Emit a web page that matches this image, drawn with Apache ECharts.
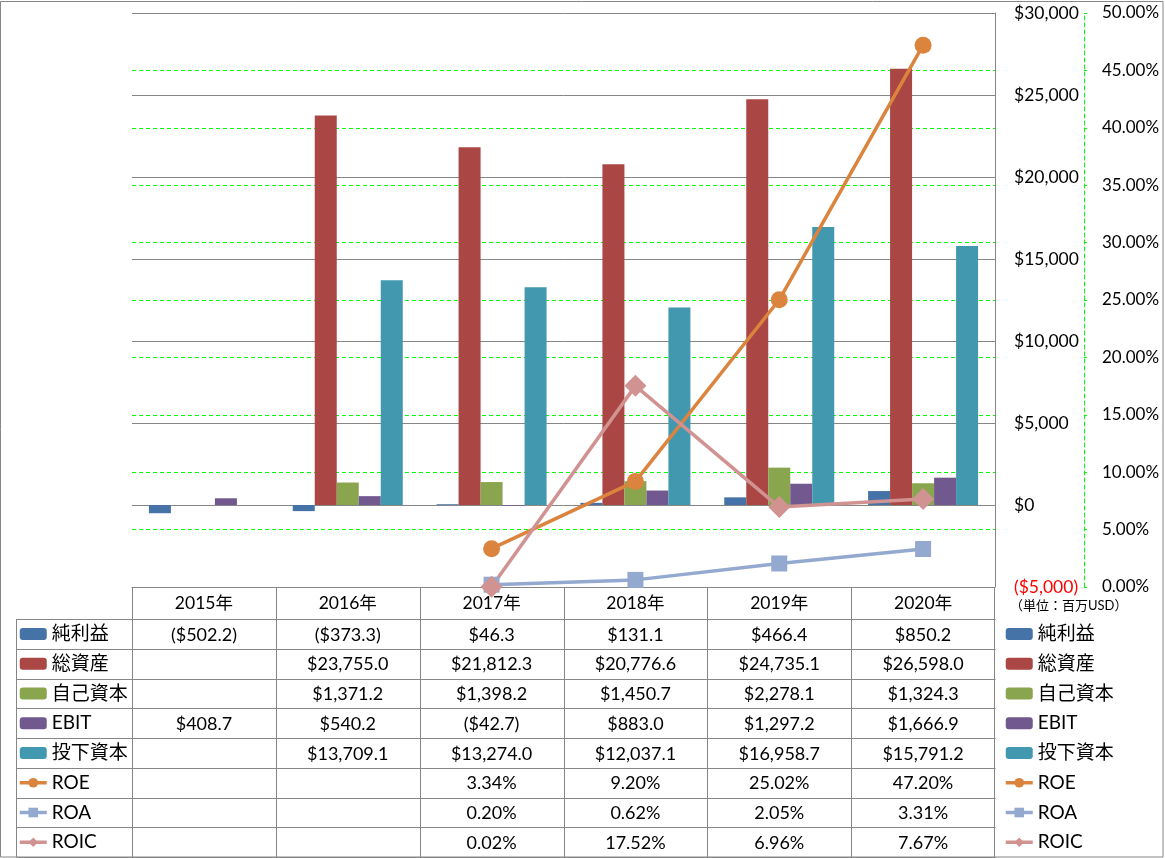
<!DOCTYPE html>
<html><head><meta charset="utf-8">
<script src="https://cdn.jsdelivr.net/npm/echarts@6/dist/echarts.min.js"></script>
<style>html,body{margin:0;padding:0;background:#fff}#c{width:1165px;height:858px}</style>
</head><body><div id="c"></div>
<script>
// ---- data ----
const categories = ['2015年','2016年','2017年','2018年','2019年','2020年'];
const netIncome = [-502.2, -373.3, 46.3, 131.1, 466.4, 850.2];
const totalAssets = [null, 23755.0, 21812.3, 20776.6, 24735.1, 26598.0];
const equity = [null, 1371.2, 1398.2, 1450.7, 2278.1, 1324.3];
const ebit = [408.7, 540.2, -42.7, 883.0, 1297.2, 1666.9];
const investedCapital = [null, 13709.1, 13274.0, 12037.1, 16958.7, 15791.2];
const roe = [null, null, 3.34, 9.20, 25.02, 47.20];
const roa = [null, null, 0.20, 0.62, 2.05, 3.31];
const roic = [null, null, 0.02, 17.52, 6.96, 7.67];
const moneyAxis = [-5000, 30000, 5000];   // min, max, interval
const pctAxis = [0, 50, 5];               // min, max, interval (percent)
const unitLabel = '（単位：百万USD）';

// ---- styling ----
const FONT = "Lato, 'Noto Sans CJK JP', sans-serif";
const GRAY = '#868686';
const GREEN = '#00FF00';
const colors = {
  '純利益':'#4572A7','総資産':'#AA4643','自己資本':'#89A54E','EBIT':'#71588F','投下資本':'#4198AF',
  'ROE':'#DB843D','ROA':'#93A9CF','ROIC':'#D19392'
};
const barSeries = [['純利益', netIncome], ['総資産', totalAssets], ['自己資本', equity], ['EBIT', ebit], ['投下資本', investedCapital]];
const lineSeries = [['ROE', roe, 'circle', 17], ['ROA', roa, 'rect', 16], ['ROIC', roic, 'diamond', 22]];

function fmtNum(v){ return v.toLocaleString('en-US',{minimumFractionDigits:1, maximumFractionDigits:1}); }
function money(v){ if(v==null) return ''; return v<0 ? '($'+fmtNum(-v)+')' : '$'+fmtNum(v); }
function pct(v){ return v==null ? '' : v.toFixed(2)+'%'; }

const GRID_L = 132, GRID_R_X = 995, GRID_T = 13, TABLE_T = 587, BOTTOM = 857;

const series = [];
barSeries.forEach(([n, d]) => series.push({
  name:n, type:'bar', data:d, barWidth:22, barGap:'0%', itemStyle:{color:colors[n]}, yAxisIndex:0
}));
lineSeries.forEach(([n, d, sym, sz]) => series.push({
  name:n, type:'line', data:d, yAxisIndex:1, symbol:sym, symbolSize:sz, clip:false,
  lineStyle:{color:colors[n], width:3.5}, itemStyle:{color:colors[n]}
}));

const legendBase = {
  orient:'vertical', top:624, padding:0, height:250, itemWidth:27, itemHeight:12, itemGap:9.75, selectedMode:false,
  textStyle:{fontSize:19, lineHeight:20, fontFamily:FONT, color:'#000'},
  lineStyle:{width:3.5},
  data: series.map(s => s.name)
};

const option = {
  animation:false,
  backgroundColor:'#fff',
  textStyle:{fontFamily:FONT},
  grid:{left:GRID_L, right:1165-GRID_R_X, top:GRID_T, bottom:858-TABLE_T, containLabel:false, outerBoundsMode:'none'},
  legend:[Object.assign({left:18}, legendBase), Object.assign({left:1004}, legendBase)],
  xAxis:{
    type:'category', data:categories, position:'bottom',
    axisLine:{show:true, onZero:false, lineStyle:{color:GRAY, width:1}},
    axisTick:{show:false},
    axisLabel:{margin:8, fontSize:17.5, color:'#000', fontFamily:FONT},
    splitLine:{show:false}
  },
  yAxis:[
    {
      type:'value', position:'right', min:moneyAxis[0], max:moneyAxis[1], interval:moneyAxis[2],
      axisLine:{show:true, lineStyle:{color:GRAY, width:1}},
      axisTick:{show:false},
      axisLabel:{margin:19, fontSize:17.5, color:'#000', fontFamily:FONT,
        formatter: v => v<0 ? '{neg|($'+(-v).toLocaleString('en-US')+')}' : '$'+v.toLocaleString('en-US'),
        rich:{neg:{color:'#FF0000', fontSize:17.5, fontFamily:FONT}}},
      splitLine:{show:true, lineStyle:{color:GRAY, width:1}}
    },
    {
      type:'value', position:'right', offset:89, min:pctAxis[0], max:pctAxis[1], interval:pctAxis[2],
      axisLine:{show:true, lineStyle:{color:GREEN, width:1, type:[4,3]}},
      axisTick:{show:true, length:3, lineStyle:{color:GREEN}},
      axisLabel:{margin:18, fontSize:17, color:'#000', fontFamily:FONT, formatter: v => v.toFixed(2)+'%'},
      splitLine:{show:true, showMinLine:false, showMaxLine:false, lineStyle:{color:GREEN, width:1, type:[4,3]}}
    }
  ],
  series: series
};

const chart = echarts.init(document.getElementById('c'), null, {renderer:'canvas'});
chart.setOption(option);

// ---- data table drawn from the data arrays and the category axis scale ----
const colX = categories.map((c, i) => chart.convertToPixel({xAxisIndex:0}, i));
const half = (colX[1] - colX[0]) / 2;
const tableRows = [
  [netIncome, money], [totalAssets, money], [equity, money], [ebit, money], [investedCapital, money],
  [roe, pct], [roa, pct], [roic, pct]
];
const ROW_T = 619;
const rowH = (BOTTOM - ROW_T) / tableRows.length;
const g = [];
const ln = (x1,y1,x2,y2) => g.push({type:'line', silent:true, shape:{x1:x1,y1:y1,x2:x2,y2:y2}, style:{stroke:GRAY, lineWidth:1}});
const crisp = v => Math.round(v) + 0.5;
// horizontal rules
for (let r = 0; r <= tableRows.length; r++) {
  const y = crisp(ROW_T + r*rowH);
  ln(16.5, y, GRID_R_X + 0.5, y);
}
// vertical rules
ln(16.5, ROW_T, 16.5, BOTTOM);
for (let i = 0; i < categories.length; i++) {
  const x = crisp(colX[i] - half);
  ln(x, TABLE_T, x, BOTTOM);
}
ln(crisp(colX[colX.length-1] + half) - 1, TABLE_T, crisp(colX[colX.length-1] + half) - 1, BOTTOM);
// cell texts
tableRows.forEach(([vals, f], r) => {
  vals.forEach((v, i) => {
    if (v == null) return;
    g.push({type:'text', silent:true, x:colX[i], y:ROW_T + r*rowH + rowH/2 + 1,
      style:{text:f(v), align:'center', verticalAlign:'middle', fontSize:18, fontFamily:FONT, fill:'#000'}});
  });
});
// unit label
g.push({type:'text', silent:true, x:1010, y:606,
  style:{text:unitLabel, align:'left', verticalAlign:'middle', fontSize:13, fontFamily:FONT, fill:'#000'}});
// outer border
g.push({type:'rect', silent:true, shape:{x:0.5, y:1.5, width:1162.5, height:855.5}, style:{fill:null, stroke:GRAY, lineWidth:1}, z:-1});
chart.setOption({graphic:g});
</script>
</body></html>
